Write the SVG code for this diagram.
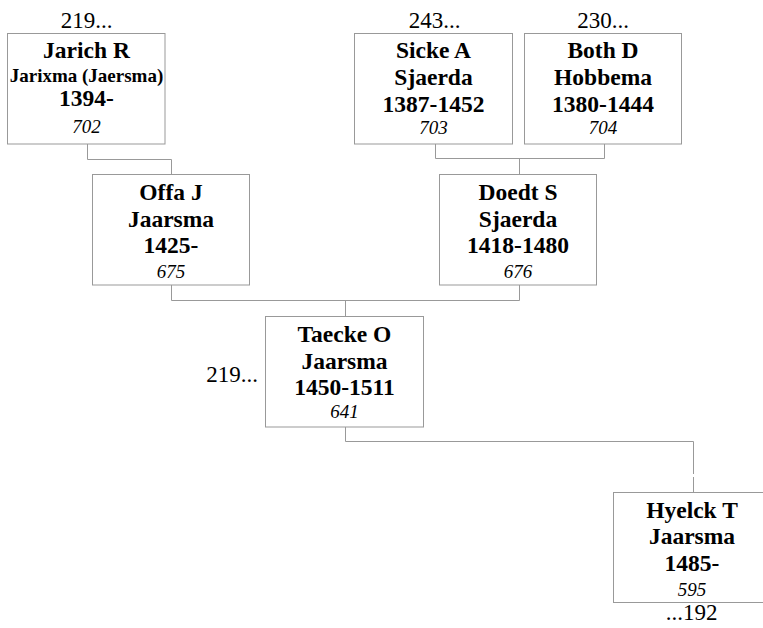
<svg xmlns="http://www.w3.org/2000/svg" width="763" height="628" viewBox="0 0 763 628">
<style>
.box{fill:#fff;stroke:#999;stroke-width:1}
.ln{fill:none;stroke:#999;stroke-width:1}
text{font-family:"Liberation Serif","Times New Roman",serif;fill:#000;text-anchor:middle}
.b{font-weight:bold;font-size:23.5px}
.s{font-weight:bold;font-size:19px}
.i{font-style:italic;font-size:19px}
.l{font-size:23px}
</style>
<rect width="763" height="628" fill="#fff"/>
<g id="connectors">
<path class="ln" d="M87.5 144 V159.5 H171.5 V174.5"/>
<path class="ln" d="M435.5 144 V158.5 H604.5 V144 M519.5 158.5 V174.5"/>
<path class="ln" d="M171.5 285 V300.5 H519.5 V285 M345.5 300.5 V316.5"/>
<path class="ln" d="M345.5 427 V441.5 H693.5 V474 M693.5 477 V492.5"/>
</g>
<g id="jarich">
<text class="l" x="86.5" y="28">219...</text>
<rect class="box" x="7.5" y="33.5" width="157.5" height="110.5"/>
<text class="b" x="86.5" y="58">Jarich R</text>
<text class="s" x="86.5" y="81.5">Jarixma (Jaersma)</text>
<text class="b" x="86.5" y="106">1394-</text>
<text class="i" x="86.5" y="133">702</text>
</g>
<g id="sicke">
<text class="l" x="434.5" y="28">243...</text>
<rect class="box" x="354.5" y="33.5" width="158" height="110.5"/>
<text class="b" x="433.5" y="58">Sicke A</text>
<text class="b" x="433.5" y="85">Sjaerda</text>
<text class="b" x="433.5" y="111.5">1387-1452</text>
<text class="i" x="433.5" y="134">703</text>
</g>
<g id="both">
<text class="l" x="603" y="28">230...</text>
<rect class="box" x="524.5" y="33.5" width="157" height="110.5"/>
<text class="b" x="603" y="58">Both D</text>
<text class="b" x="603" y="85">Hobbema</text>
<text class="b" x="603" y="111.5">1380-1444</text>
<text class="i" x="603" y="134">704</text>
</g>
<g id="offa">
<rect class="box" x="92.5" y="174.5" width="157" height="110.5"/>
<text class="b" x="171" y="199.5">Offa J</text>
<text class="b" x="171" y="226.5">Jaarsma</text>
<text class="b" x="171" y="253">1425-</text>
<text class="i" x="171" y="277.5">675</text>
</g>
<g id="doedt">
<rect class="box" x="439.5" y="174.5" width="157" height="110.5"/>
<text class="b" x="518" y="199.5">Doedt S</text>
<text class="b" x="518" y="226.5">Sjaerda</text>
<text class="b" x="518" y="253">1418-1480</text>
<text class="i" x="518" y="277.5">676</text>
</g>
<g id="taecke">
<text class="l" x="258" y="381.5" style="text-anchor:end">219...</text>
<rect class="box" x="265.5" y="316.5" width="158" height="110.5"/>
<text class="b" x="344.5" y="341.5">Taecke O</text>
<text class="b" x="344.5" y="368.5">Jaarsma</text>
<text class="b" x="344.5" y="395">1450-1511</text>
<text class="i" x="344.5" y="418">641</text>
</g>
<g id="hyelck">
<rect class="box" x="613.5" y="492.5" width="158" height="110"/>
<text class="b" x="692" y="517.5">Hyelck T</text>
<text class="b" x="692" y="544">Jaarsma</text>
<text class="b" x="692" y="570.5">1485-</text>
<text class="i" x="692" y="595.5">595</text>
<text class="l" x="691.5" y="620">...192</text>
</g>
</svg>
